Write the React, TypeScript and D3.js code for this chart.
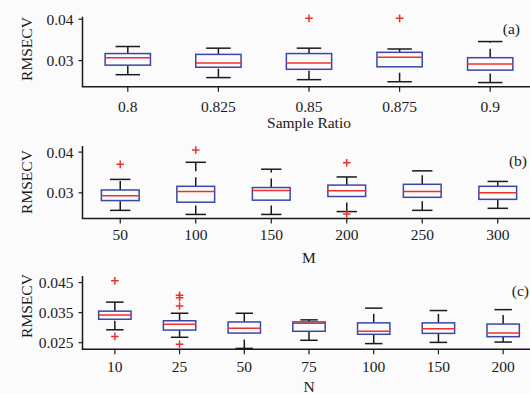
import React from "react";
import * as d3 from "d3";

// Panel (a): Sample Ratio
const ratioCats = ["0.8", "0.825", "0.85", "0.875", "0.9"];
const ratioLow = [0.0266, 0.0259, 0.0254, 0.0249, 0.0247];
const ratioQ1 = [0.0289, 0.0284, 0.0279, 0.0285, 0.0277];
const ratioMed = [0.0307, 0.0294, 0.0294, 0.0308, 0.0292];
const ratioQ3 = [0.0317, 0.0315, 0.0317, 0.032, 0.0307];
const ratioHigh = [0.0334, 0.033, 0.033, 0.0328, 0.0346];
const ratioOut = [[], [], [0.0402], [0.0402], []];
const ratioTicks = [0.03, 0.04];

// Panel (b): M
const mCats = ["50", "100", "150", "200", "250", "300"];
const mLow = [0.0257, 0.0247, 0.0247, 0.0254, 0.0257, 0.0262];
const mQ1 = [0.0281, 0.0277, 0.0282, 0.0291, 0.0289, 0.0284];
const mMed = [0.0293, 0.0303, 0.0306, 0.0305, 0.0303, 0.03];
const mQ3 = [0.0307, 0.0316, 0.0313, 0.0319, 0.0321, 0.0316];
const mHigh = [0.0333, 0.0375, 0.0358, 0.0339, 0.0354, 0.0328];
const mOut = [[0.037], [0.0405], [], [0.0374, 0.0248], [], []];
const mTicks = [0.03, 0.04];

// Panel (c): N
const nCats = ["10", "25", "50", "75", "100", "150", "200"];
const nLow = [0.0293, 0.0268, 0.0231, 0.0258, 0.0247, 0.0251, 0.0252];
const nQ1 = [0.0328, 0.0292, 0.0282, 0.0288, 0.0278, 0.0281, 0.027];
const nMed = [0.0342, 0.0311, 0.0298, 0.0315, 0.0288, 0.0296, 0.0282];
const nQ3 = [0.0355, 0.0323, 0.0319, 0.0319, 0.0316, 0.0316, 0.0312];
const nHigh = [0.0385, 0.0348, 0.0348, 0.0326, 0.0365, 0.0357, 0.036];
const nOut = [[0.0456, 0.0271], [0.0408, 0.04, 0.0372, 0.0245], [], [], [], [], []];
const nTicks = [0.025, 0.035, 0.045];

const FONT = "'Liberation Serif', 'Times New Roman', serif";
const BLUE = "#3a47a6";
const RED = "#f0302c";
const INK = "#1a1a1a";

type PanelProps = {
  cats: string[];
  low: number[];
  q1: number[];
  med: number[];
  q3: number[];
  high: number[];
  out: number[][];
  ticks: number[];
  tickFmt: string;
  domain: [number, number];
  yRange: [number, number];
  xLabel: string;
  xLabelY: number;
  tickLabelY: number;
  panelLabel: string;
  panelLabelX: number;
  panelLabelY: number;
  yLabelY: number;
};

const X0 = 82.5;
const X1 = 535.5;

function Panel(p: PanelProps) {
  const x = d3.scaleBand<string>().domain(p.cats).range([X0, X1]).padding(0);
  const y = d3.scaleLinear().domain(p.domain).range(p.yRange);
  const bw = x.bandwidth();
  const boxW = bw * 0.5;
  const capW = bw * 0.27;
  const [yb, yt] = p.yRange;
  const fmt = d3.format(p.tickFmt);
  return (
    <g>
      {/* axes */}
      <line x1={X0} x2={X0} y1={yt} y2={yb} stroke={INK} strokeWidth={1.5} />
      <line x1={X0 - 0.75} x2={X1 + 5} y1={yb} y2={yb} stroke={INK} strokeWidth={1.5} />
      {p.ticks.map((t) => (
        <g key={t}>
          <line x1={X0 - 4} x2={X0} y1={y(t)} y2={y(t)} stroke={INK} strokeWidth={1.2} />
          <text
            x={X0 - 9}
            y={y(t)}
            dy="0.35em"
            textAnchor="end"
            fontFamily={FONT}
            fontSize={15.5}
            fill={INK}
          >
            {fmt(t)}
          </text>
        </g>
      ))}
      {p.cats.map((c) => {
        const cx = (x(c) as number) + bw / 2;
        return (
          <g key={c}>
            <line x1={cx} x2={cx} y1={yb} y2={yb + 5} stroke={INK} strokeWidth={1.2} />
            <text
              x={cx}
              y={p.tickLabelY}
              textAnchor="middle"
              fontFamily={FONT}
              fontSize={15.5}
              fill={INK}
            >
              {c}
            </text>
          </g>
        );
      })}
      {/* boxes */}
      {p.cats.map((c, i) => {
        const cx = (x(c) as number) + bw / 2;
        return (
          <g key={"b" + c}>
            <line
              x1={cx}
              x2={cx}
              y1={y(p.q3[i])}
              y2={y(p.high[i])}
              stroke={INK}
              strokeWidth={1.5}
              strokeDasharray="9,6"
            />
            <line
              x1={cx}
              x2={cx}
              y1={y(p.low[i])}
              y2={y(p.q1[i])}
              stroke={INK}
              strokeWidth={1.5}
              strokeDasharray="9,6"
            />
            <line x1={cx - capW / 2} x2={cx + capW / 2} y1={y(p.high[i])} y2={y(p.high[i])} stroke={INK} strokeWidth={1.5} />
            <line x1={cx - capW / 2} x2={cx + capW / 2} y1={y(p.low[i])} y2={y(p.low[i])} stroke={INK} strokeWidth={1.5} />
            <rect
              x={cx - boxW / 2}
              y={y(p.q3[i])}
              width={boxW}
              height={y(p.q1[i]) - y(p.q3[i])}
              fill="none"
              stroke={BLUE}
              strokeWidth={1.5}
            />
            <line x1={cx - boxW / 2} x2={cx + boxW / 2} y1={y(p.med[i])} y2={y(p.med[i])} stroke={RED} strokeWidth={1.5} />
            {p.out[i].map((o, j) => (
              <path
                key={j}
                d={`M${cx - 3.8},${y(o)}h7.6M${cx},${y(o) - 3.8}v7.6`}
                stroke={RED}
                strokeWidth={1.5}
                fill="none"
              />
            ))}
          </g>
        );
      })}
      <text
        x={(X0 + X1) / 2}
        y={p.xLabelY}
        textAnchor="middle"
        fontFamily={FONT}
        fontSize={15.5}
        fill={INK}
      >
        {p.xLabel}
      </text>
      <text
        transform={`translate(32,${p.yLabelY}) rotate(-90)`}
        textAnchor="middle"
        fontFamily={FONT}
        fontSize={15.5}
        fill={INK}
      >
        RMSECV
      </text>
      <text
        x={p.panelLabelX}
        y={p.panelLabelY}
        textAnchor="end"
        fontFamily={FONT}
        fontSize={15.5}
        fill={INK}
      >
        {p.panelLabel}
      </text>
    </g>
  );
}

export default function App() {
  return (
    <svg
      width={530}
      height={394}
      style={{ position: "absolute", left: 0, top: 0, background: "#fbfbfb" }}
    >
      <rect width={530} height={394} fill="#fbfbfb" />
      <Panel
        cats={ratioCats}
        low={ratioLow}
        q1={ratioQ1}
        med={ratioMed}
        q3={ratioQ3}
        high={ratioHigh}
        out={ratioOut}
        ticks={ratioTicks}
        tickFmt=".2f"
        domain={[0.0237, 0.0406]}
        yRange={[86.7, 16.7]}
        xLabel="Sample Ratio"
        xLabelY={128}
        tickLabelY={111.5}
        panelLabel="(a)"
        panelLabelX={520}
        panelLabelY={34}
        yLabelY={49}
      />
      <Panel
        cats={mCats}
        low={mLow}
        q1={mQ1}
        med={mMed}
        q3={mQ3}
        high={mHigh}
        out={mOut}
        ticks={mTicks}
        tickFmt=".2f"
        domain={[0.0237, 0.0415]}
        yRange={[218.5, 146]}
        xLabel="M"
        xLabelY={263}
        tickLabelY={240}
        panelLabel="(b)"
        panelLabelX={527}
        panelLabelY={166}
        yLabelY={182}
      />
      <Panel
        cats={nCats}
        low={nLow}
        q1={nQ1}
        med={nMed}
        q3={nQ3}
        high={nHigh}
        out={nOut}
        ticks={nTicks}
        tickFmt=".3f"
        domain={[0.0228, 0.0472]}
        yRange={[349.3, 276]}
        xLabel="N"
        xLabelY={392}
        tickLabelY={371.5}
        panelLabel="(c)"
        panelLabelX={529}
        panelLabelY={296}
        yLabelY={306}
      />
    </svg>
  );
}
